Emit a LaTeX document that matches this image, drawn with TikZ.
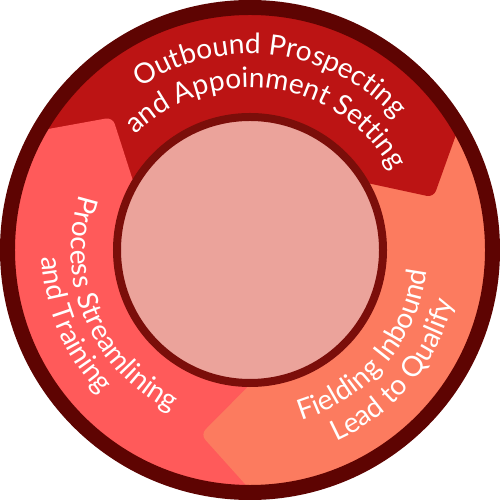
\documentclass[tikz,border=0pt]{standalone}
\usepackage{fontspec}
\setmainfont{Lato}
\usetikzlibrary{calc,decorations.text}

\definecolor{rimdark}{RGB}{94,4,2}
\definecolor{topred}{RGB}{188,20,20}
\definecolor{leftred}{RGB}{255,90,90}
\definecolor{rightsalmon}{RGB}{252,123,95}
\definecolor{hubfill}{RGB}{235,163,155}
\definecolor{hubline}{RGB}{123,14,10}

% sector of the ring: colour, from angle, to angle
\newcommand{\ringsector}[3]{%
  \fill[#1] (#2:4.8) arc[start angle=#2, end angle=#3, radius=4.8]
    -- (#3:2.5) arc[start angle=#3, end angle=#2, radius=2.5] -- cycle;}
% arrow point: colour, base angle, point angle, angle behind base
\newcommand{\ringtip}[4]{%
  \fill[#1, rounded corners=4pt]
    ($(#3:3.82)!1.15!(#2:4.7)$) -- (#3:3.82) -- ($(#3:3.82)!1.2!(#2:2.74)$)
    -- (#4:2.55) -- (#4:4.85) -- cycle;}
% curved label: radius, start angle, end angle, text
\newcommand{\ringlabel}[4]{%
  \path[decorate, decoration={text along path, text align=center,
    text={|\fontsize{16}{19}\selectfont\color{white}|#4}}]
    (#2:#1) arc[start angle=#2, end angle=#3, radius=#1];}

\begin{document}
\begin{tikzpicture}
\useasboundingbox (-5,-5) rectangle (5,5);
% ring segments
\ringsector{topred}{149}{29}
\ringsector{rightsalmon}{29}{-91}
\ringsector{leftred}{-91}{-211}
% arrow points
\ringtip{topred}{29}{16}{36}
\ringtip{rightsalmon}{-91}{-105}{-84}
\ringtip{leftred}{149}{136}{156}
% rim and hub
\draw[rimdark, line width=0.3cm] (0,0) circle (4.85);
\draw[hubline, fill=hubfill, line width=0.16cm] (0,0) circle (2.66);
% labels
\ringlabel{3.92}{158}{8}{Outbound Prospecting}
\ringlabel{3.25}{157}{7}{and Appoinment Setting}
\ringlabel{3.58}{128}{278}{Process Streamlining}
\ringlabel{4.16}{128}{278}{and Training}
\ringlabel{3.56}{-115}{35}{Fielding Inbound}
\ringlabel{4.2}{-115}{35}{Lead to Qualify}
\end{tikzpicture}
\end{document}
